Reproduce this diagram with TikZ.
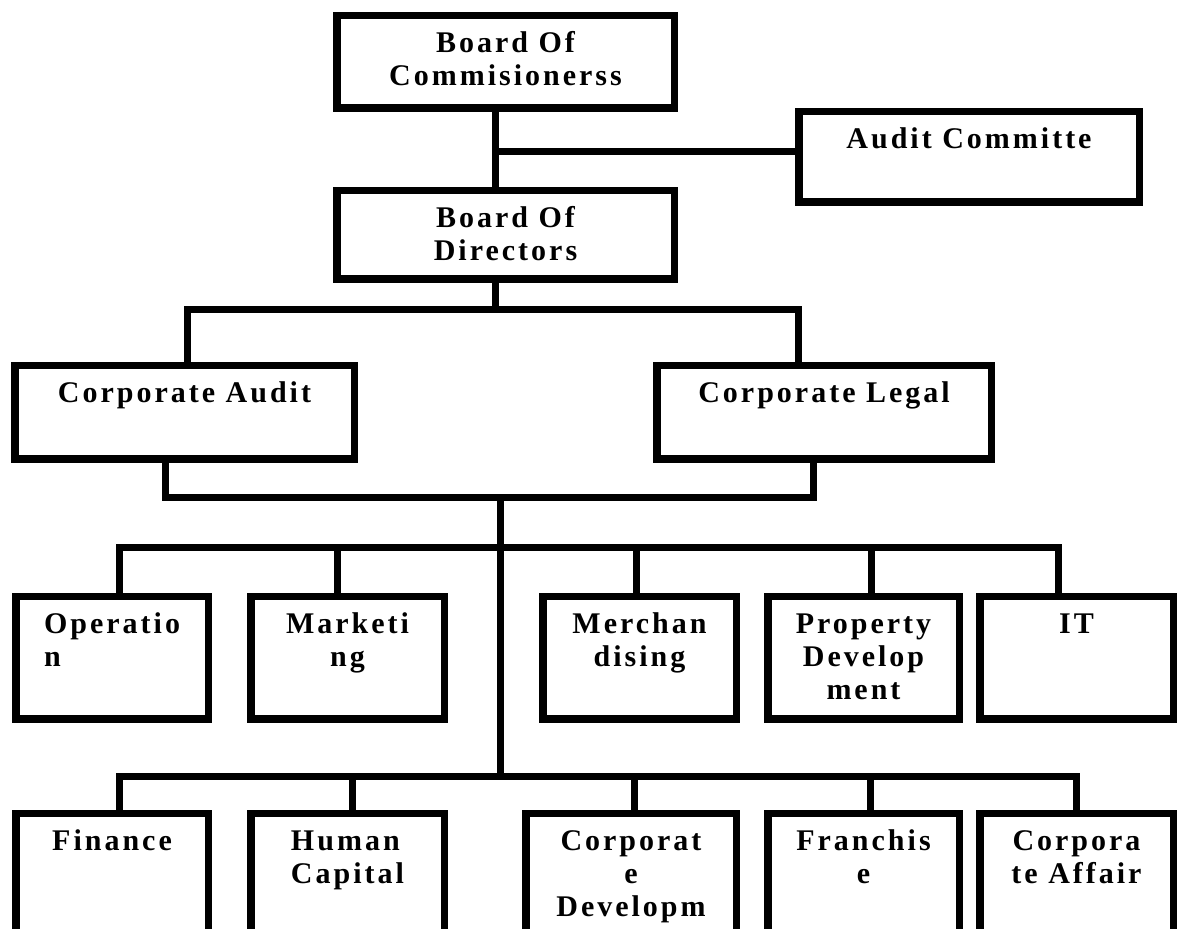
\documentclass[tikz,border=0pt]{standalone}
\usepackage{fontspec}
\setmainfont{Liberation Serif}[LetterSpace=10]
\newcommand\labelfont{\fontsize{15}{16.5}\selectfont\bfseries}
\tikzset{
  orgbox/.style={draw=black, line width=3.75pt, inner sep=0pt},
  conn/.style={draw=black, line width=3.5pt, line join=miter},
  lbl/.style={font=\labelfont, align=center, inner sep=0pt, anchor=base},
}
% name, x1, y1, x2, y2, text, align, number of lines
\newcommand\obox[8]{%
  \node[orgbox, minimum width={(#4-#2-7.5)*0.5pt}, minimum height={(#5-#3-7.5)*0.5pt}]
    (#1) at ({(#2+#4)/2},{(#3+#5)/2}) {};
  \node[lbl, align=#7] (#1t) at ({(#2+#4)/2},{#3+41+(#8-1)*33}) {#6};
}
\begin{document}
\begin{tikzpicture}[x=0.5pt,y=-0.5pt]
\useasboundingbox[fill=white] (0,0) rectangle (1179,929);
\clip (0,0) rectangle (1179,929);

% boxes
\obox{boc}{333}{12}{678}{112}{Board Of\\Commisionerss}{center}{2}
\obox{bod}{333}{187}{678}{283}{Board Of\\Directors}{center}{2}
\obox{aud}{795}{108}{1143}{206}{Audit Committe}{center}{1}
\obox{ca}{11}{362}{358}{463}{Corporate Audit}{center}{1}
\obox{cl}{653}{362}{995}{463}{Corporate Legal}{center}{1}
\obox{op}{12}{593}{212}{723}{Operatio\\n}{left}{2}
\obox{mk}{247}{593}{448}{723}{Marketi\\ng}{center}{2}
\obox{me}{539}{593}{740}{723}{Merchan\\dising}{center}{2}
\obox{pd}{764}{593}{963}{723}{Property\\Develop\\ment}{center}{3}
\obox{it}{976}{593}{1177}{723}{IT}{center}{1}
\obox{fi}{12}{810}{212}{980}{Finance}{center}{1}
\obox{hc}{247}{810}{448}{980}{Human\\Capital}{left}{2}
\obox{cd}{522}{810}{740}{980}{Corporat\\e\\Developm}{center}{3}
\obox{fr}{764}{810}{963}{980}{Franchis\\e}{center}{2}
\obox{af}{976}{810}{1177}{980}{Corpora\\te Affair}{center}{2}

% junction coordinates
\coordinate (jtop) at (495,152);
\coordinate (jbod) at (495,310);
\coordinate (jca) at (187,310);
\coordinate (jcl) at (798,310);
\coordinate (jcab) at (165,498);
\coordinate (jclb) at (813,498);
\coordinate (jmid) at (500,498);
\coordinate (jrow2) at (500,777);
\coordinate (r1l) at (119,548);
\coordinate (r1r) at (1058,548);
\coordinate (r2l) at (119,777);
\coordinate (r2r) at (1076,777);

% top connectors
\draw[conn] (boc.south -| jtop) -- (bod.north -| jtop);
\draw[conn] (jtop) -- (aud.west |- jtop);
\draw[conn] (bod.south -| jbod) -- (jbod);
\draw[conn] (ca.north -| jca) -- (jca) -- (jcl) -- (cl.north -| jcl);
\draw[conn] (ca.south -| jcab) -- (jcab) -- (jclb) -- (cl.south -| jclb);
\draw[conn] (jmid) -- (jrow2);

% row 1
\draw[conn] (op.north -| r1l) -- (r1l) -- (r1r) -- (it.north -| r1r);
\draw[conn] (mk.north -| 337,0) -- (337,548);
\draw[conn] (me.north -| 636,0) -- (636,548);
\draw[conn] (pd.north -| 871,0) -- (871,548);

% row 2
\draw[conn] (fi.north -| r2l) -- (r2l) -- (r2r) -- (af.north -| r2r);
\draw[conn] (hc.north -| 352,0) -- (352,777);
\draw[conn] (cd.north -| 634,0) -- (634,777);
\draw[conn] (fr.north -| 870,0) -- (870,777);
\end{tikzpicture}
\end{document}
